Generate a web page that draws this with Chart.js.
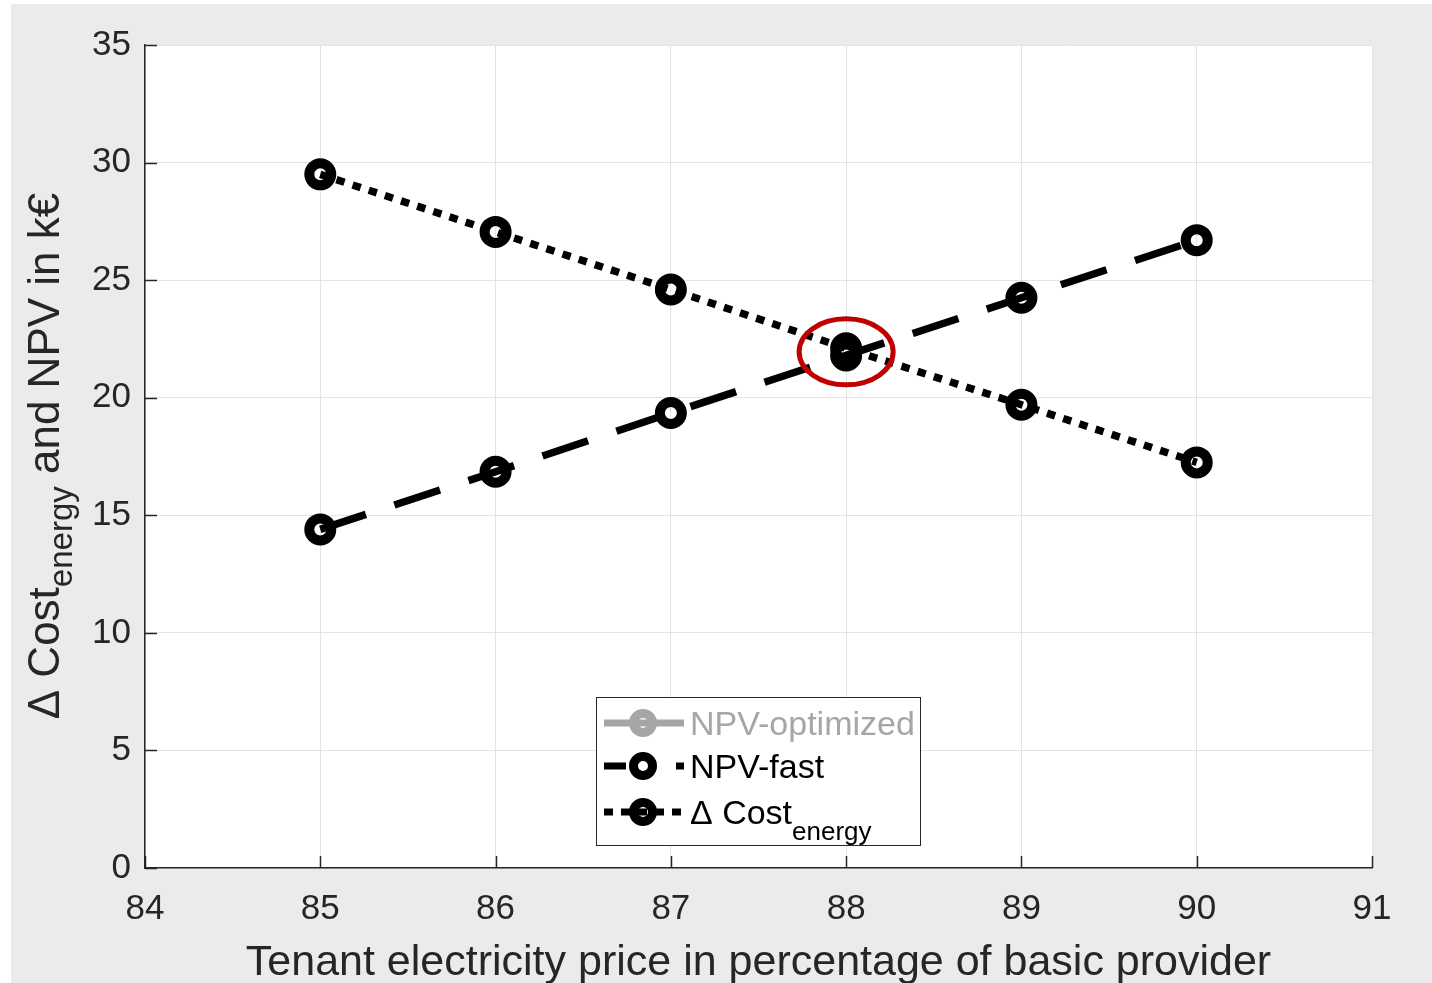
<!DOCTYPE html>
<html>
<head>
<meta charset="utf-8">
<script src="https://cdn.jsdelivr.net/npm/chart.js@4"></script>
<style>
  html, body { margin: 0; padding: 0; background: #fff; }
  canvas { display: block; }
</style>
</head>
<body>
<canvas id="chart" width="1432" height="983"></canvas>
<script>
// values
const prices = [85, 86, 87, 88, 89, 90];
const npvOptimized = [];
const npvFast = [14.4, 16.85, 19.35, 21.8, 24.25, 26.7];
const deltaCost = [29.5, 27.05, 24.6, 22.1, 19.7, 17.25];
const xTicks = [84, 85, 86, 87, 88, 89, 90, 91];
const yTicks = [0, 5, 10, 15, 20, 25, 30, 35];
const highlight = { x: 88, y: 21.95 };

const FONT = '"Liberation Sans", Arial, Helvetica, sans-serif';
const TXT = '#262626';
const DASHED = [48, 30];
const DOTTED = [8.5, 8.5];

const toPoints = (ys) => ys.map((y, i) => ({ x: prices[i], y }));

// figure background, white axes area, inward ticks
const backgroundPlugin = {
    id: 'background',
    beforeDraw(chart) {
        const { ctx, chartArea: a } = chart;
        ctx.save();
        ctx.fillStyle = '#fff';
        ctx.fillRect(0, 0, chart.width, chart.height);
        ctx.fillStyle = '#ebebeb';
        ctx.fillRect(11, 4, chart.width - 11, chart.height - 4);
        ctx.fillStyle = '#fff';
        ctx.fillRect(a.left, a.top, a.right - a.left, a.bottom - a.top);
        ctx.restore();
    },
    afterDraw(chart) {
        const { ctx, chartArea: a, scales } = chart;
        ctx.save();
        ctx.strokeStyle = TXT;
        ctx.lineWidth = 1.5;
        ctx.beginPath();
        xTicks.forEach(v => {
            const px = Math.round(scales.x.getPixelForValue(v)) + 0.5;
            ctx.moveTo(px, a.bottom);
            ctx.lineTo(px, a.bottom - 12);
        });
        yTicks.forEach(v => {
            const py = Math.round(scales.y.getPixelForValue(v)) + 0.5;
            ctx.moveTo(a.left, py);
            ctx.lineTo(a.left + 12, py);
        });
        ctx.stroke();
        ctx.restore();
    }
};

// red ring at the crossing, y title with subscript, legend box
const overlayPlugin = {
    id: 'overlay',
    afterDatasetsDraw(chart) {
        const { ctx, scales } = chart;
        const cx = scales.x.getPixelForValue(highlight.x);
        const cy = scales.y.getPixelForValue(highlight.y);
        ctx.save();
        ctx.strokeStyle = '#c00000';
        ctx.lineWidth = 5;
        ctx.beginPath();
        ctx.ellipse(cx, cy, 47, 33, 0, 0, Math.PI * 2);
        ctx.stroke();
        ctx.restore();
    },
    afterDraw(chart) {
        const { ctx } = chart;

        // y axis title
        ctx.save();
        ctx.translate(59, 456);
        ctx.rotate(-Math.PI / 2);
        ctx.fillStyle = TXT;
        ctx.textBaseline = 'alphabetic';
        const main = '44px ' + FONT, sub = '33px ' + FONT;
        const parts = [
            { t: '\u0394 Cost', f: main, dy: 0 },
            { t: 'energy', f: sub, dy: 13 },
            { t: ' and NPV in k\u20AC', f: main, dy: 0 }
        ];
        let total = 0;
        parts.forEach(p => { ctx.font = p.f; p.w = ctx.measureText(p.t).width; total += p.w; });
        let x = -total / 2;
        parts.forEach(p => { ctx.font = p.f; ctx.fillText(p.t, x, p.dy); x += p.w; });
        ctx.restore();

        // legend
        const box = { l: 596, t: 697, r: 921, b: 846 };
        ctx.save();
        ctx.fillStyle = '#fff';
        ctx.fillRect(box.l, box.t, box.r - box.l, box.b - box.t);
        ctx.strokeStyle = '#262626';
        ctx.lineWidth = 1;
        ctx.strokeRect(box.l + 0.5, box.t + 0.5, box.r - box.l - 1, box.b - box.t - 1);

        const rows = [
            { label: 'NPV-optimized', color: '#a6a6a6', dash: [], y: 723 },
            { label: 'NPV-fast', color: '#000', dash: [22, 50, 9, 20], y: 766 },
            { label: '\u0394 Cost', subLabel: 'energy', color: '#000', dash: [9, 8], y: 812 }
        ];
        rows.forEach(r => {
            ctx.strokeStyle = r.color;
            ctx.lineWidth = 7;
            ctx.setLineDash(r.dash);
            ctx.beginPath();
            ctx.moveTo(604, r.y);
            ctx.lineTo(684, r.y);
            ctx.stroke();
            ctx.setLineDash([]);
            ctx.lineWidth = 9;
            ctx.beginPath();
            ctx.arc(643, r.y, 9.5, 0, Math.PI * 2);
            ctx.stroke();

            ctx.fillStyle = r.color === '#000' ? '#000' : '#a6a6a6';
            ctx.textBaseline = 'middle';
            ctx.font = '34px ' + FONT;
            ctx.fillText(r.label, 690, r.y + 3);
            if (r.subLabel) {
                const w = ctx.measureText(r.label).width;
                ctx.font = '26px ' + FONT;
                ctx.fillText(r.subLabel, 690 + w, r.y + 21);
            }
        });
        ctx.restore();
    }
};

// open markers: the line shows through the hole, like the original
const lineSet = (label, data, color, dash) => ({
    label,
    data: toPoints(data),
    borderColor: color,
    borderWidth: 7.5,
    borderDash: dash,
    borderCapStyle: 'butt',
    pointRadius: 11,
    pointBorderWidth: 10,
    pointBorderColor: color,
    pointBackgroundColor: 'rgba(0,0,0,0)',
    pointHoverRadius: 11,
    tension: 0,
    fill: false
});

new Chart(document.getElementById('chart'), {
    type: 'line',
    data: {
        datasets: [
            lineSet('NPV-optimized', npvOptimized, '#a6a6a6', []),
            lineSet('NPV-fast', npvFast, '#000', DASHED),
            lineSet('\u0394 Cost energy', deltaCost, '#000', DOTTED)
        ]
    },
    options: {
        responsive: false,
        animation: false,
        devicePixelRatio: 1,
        layout: { padding: { left: 0, top: 45, right: 60, bottom: 0 } },
        plugins: {
            legend: { display: false },
            tooltip: { enabled: false }
        },
        scales: {
            x: {
                type: 'linear',
                min: 84,
                max: 91,
                afterFit: s => { s.height = 115; },
                afterBuildTicks: s => { s.ticks = xTicks.map(v => ({ value: v })); },
                ticks: { color: TXT, font: { family: FONT, size: 35 }, padding: 20 },
                grid: { color: '#e3e3e3', lineWidth: 1, drawTicks: false },
                border: { color: TXT, width: 1.5 },
                title: {
                    display: true,
                    text: 'Tenant electricity price in percentage of basic provider',
                    color: TXT,
                    font: { family: FONT, size: 43 },
                    padding: { top: 0, bottom: -6 }
                }
            },
            y: {
                min: 0,
                max: 35,
                afterFit: s => { s.width = 145; },
                afterBuildTicks: s => { s.ticks = yTicks.map(v => ({ value: v })); },
                ticks: { color: TXT, font: { family: FONT, size: 35 }, padding: 14 },
                grid: { color: '#e3e3e3', lineWidth: 1, drawTicks: false },
                border: { color: TXT, width: 1.5 }
            }
        }
    },
    plugins: [backgroundPlugin, overlayPlugin]
});
</script>
</body>
</html>
